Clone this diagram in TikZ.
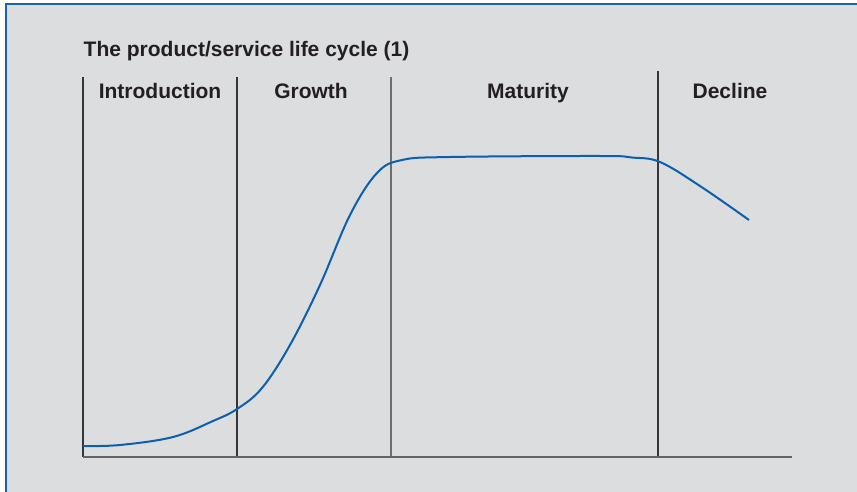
\documentclass[tikz,border=0pt]{standalone}
\usepackage{fontspec}
\setmainfont{Liberation Sans}
\usetikzlibrary{positioning}
\definecolor{panelgrey}{HTML}{DCDDDF}
\definecolor{frameblue}{HTML}{1763B2}
\definecolor{curveblue}{HTML}{0B5FAD}
\definecolor{inkdark}{HTML}{231F20}
\tikzset{
    stage/.style={anchor=base,font=\fontsize{21}{24}\selectfont\bfseries,text=inkdark,inner sep=0pt},
    divider/.style={draw=inkdark!90,line width=1.2pt},
}

\begin{document}
\begin{tikzpicture}[x=1pt,y=-1pt]
    \useasboundingbox(0,0)rectangle(857,492);
    \fill[panelgrey](6,4)rectangle(857,492);
    \draw[frameblue,line width=2pt](6,492)--(6,4)--(857,4);

    \node[stage,anchor=base west](title)at(83.5,57){The product/service life cycle (1)};
    \node[stage](intro)at(160,99){Introduction};
    \node[stage](growth)at(311,99){Growth};
    \node[stage](maturity)at(528,99){Maturity};
    \node[stage](decline)at(730,99){Decline};

    \draw[divider](83,77)--(83,457);
    \draw[divider](237,77)--(237,457);
    \draw[divider,draw=inkdark!65](391,77)--(391,457);
    \draw[divider](658,71)--(658,457);
    \draw[draw=inkdark!70,line width=1.8pt](83,457)--(792,457);

    \draw[curveblue,line width=2pt]plot[smooth,tension=0.6]coordinates{
        (83,446)(120,445)(173,437)(213,421)(237,409)(262,388)(290,345)
        (320,285)(350,215)(377,173)(402,160)(450,157)(600,156)(632,157.5)
        (660,162)(700,186)(749,220)};
\end{tikzpicture}
\end{document}
